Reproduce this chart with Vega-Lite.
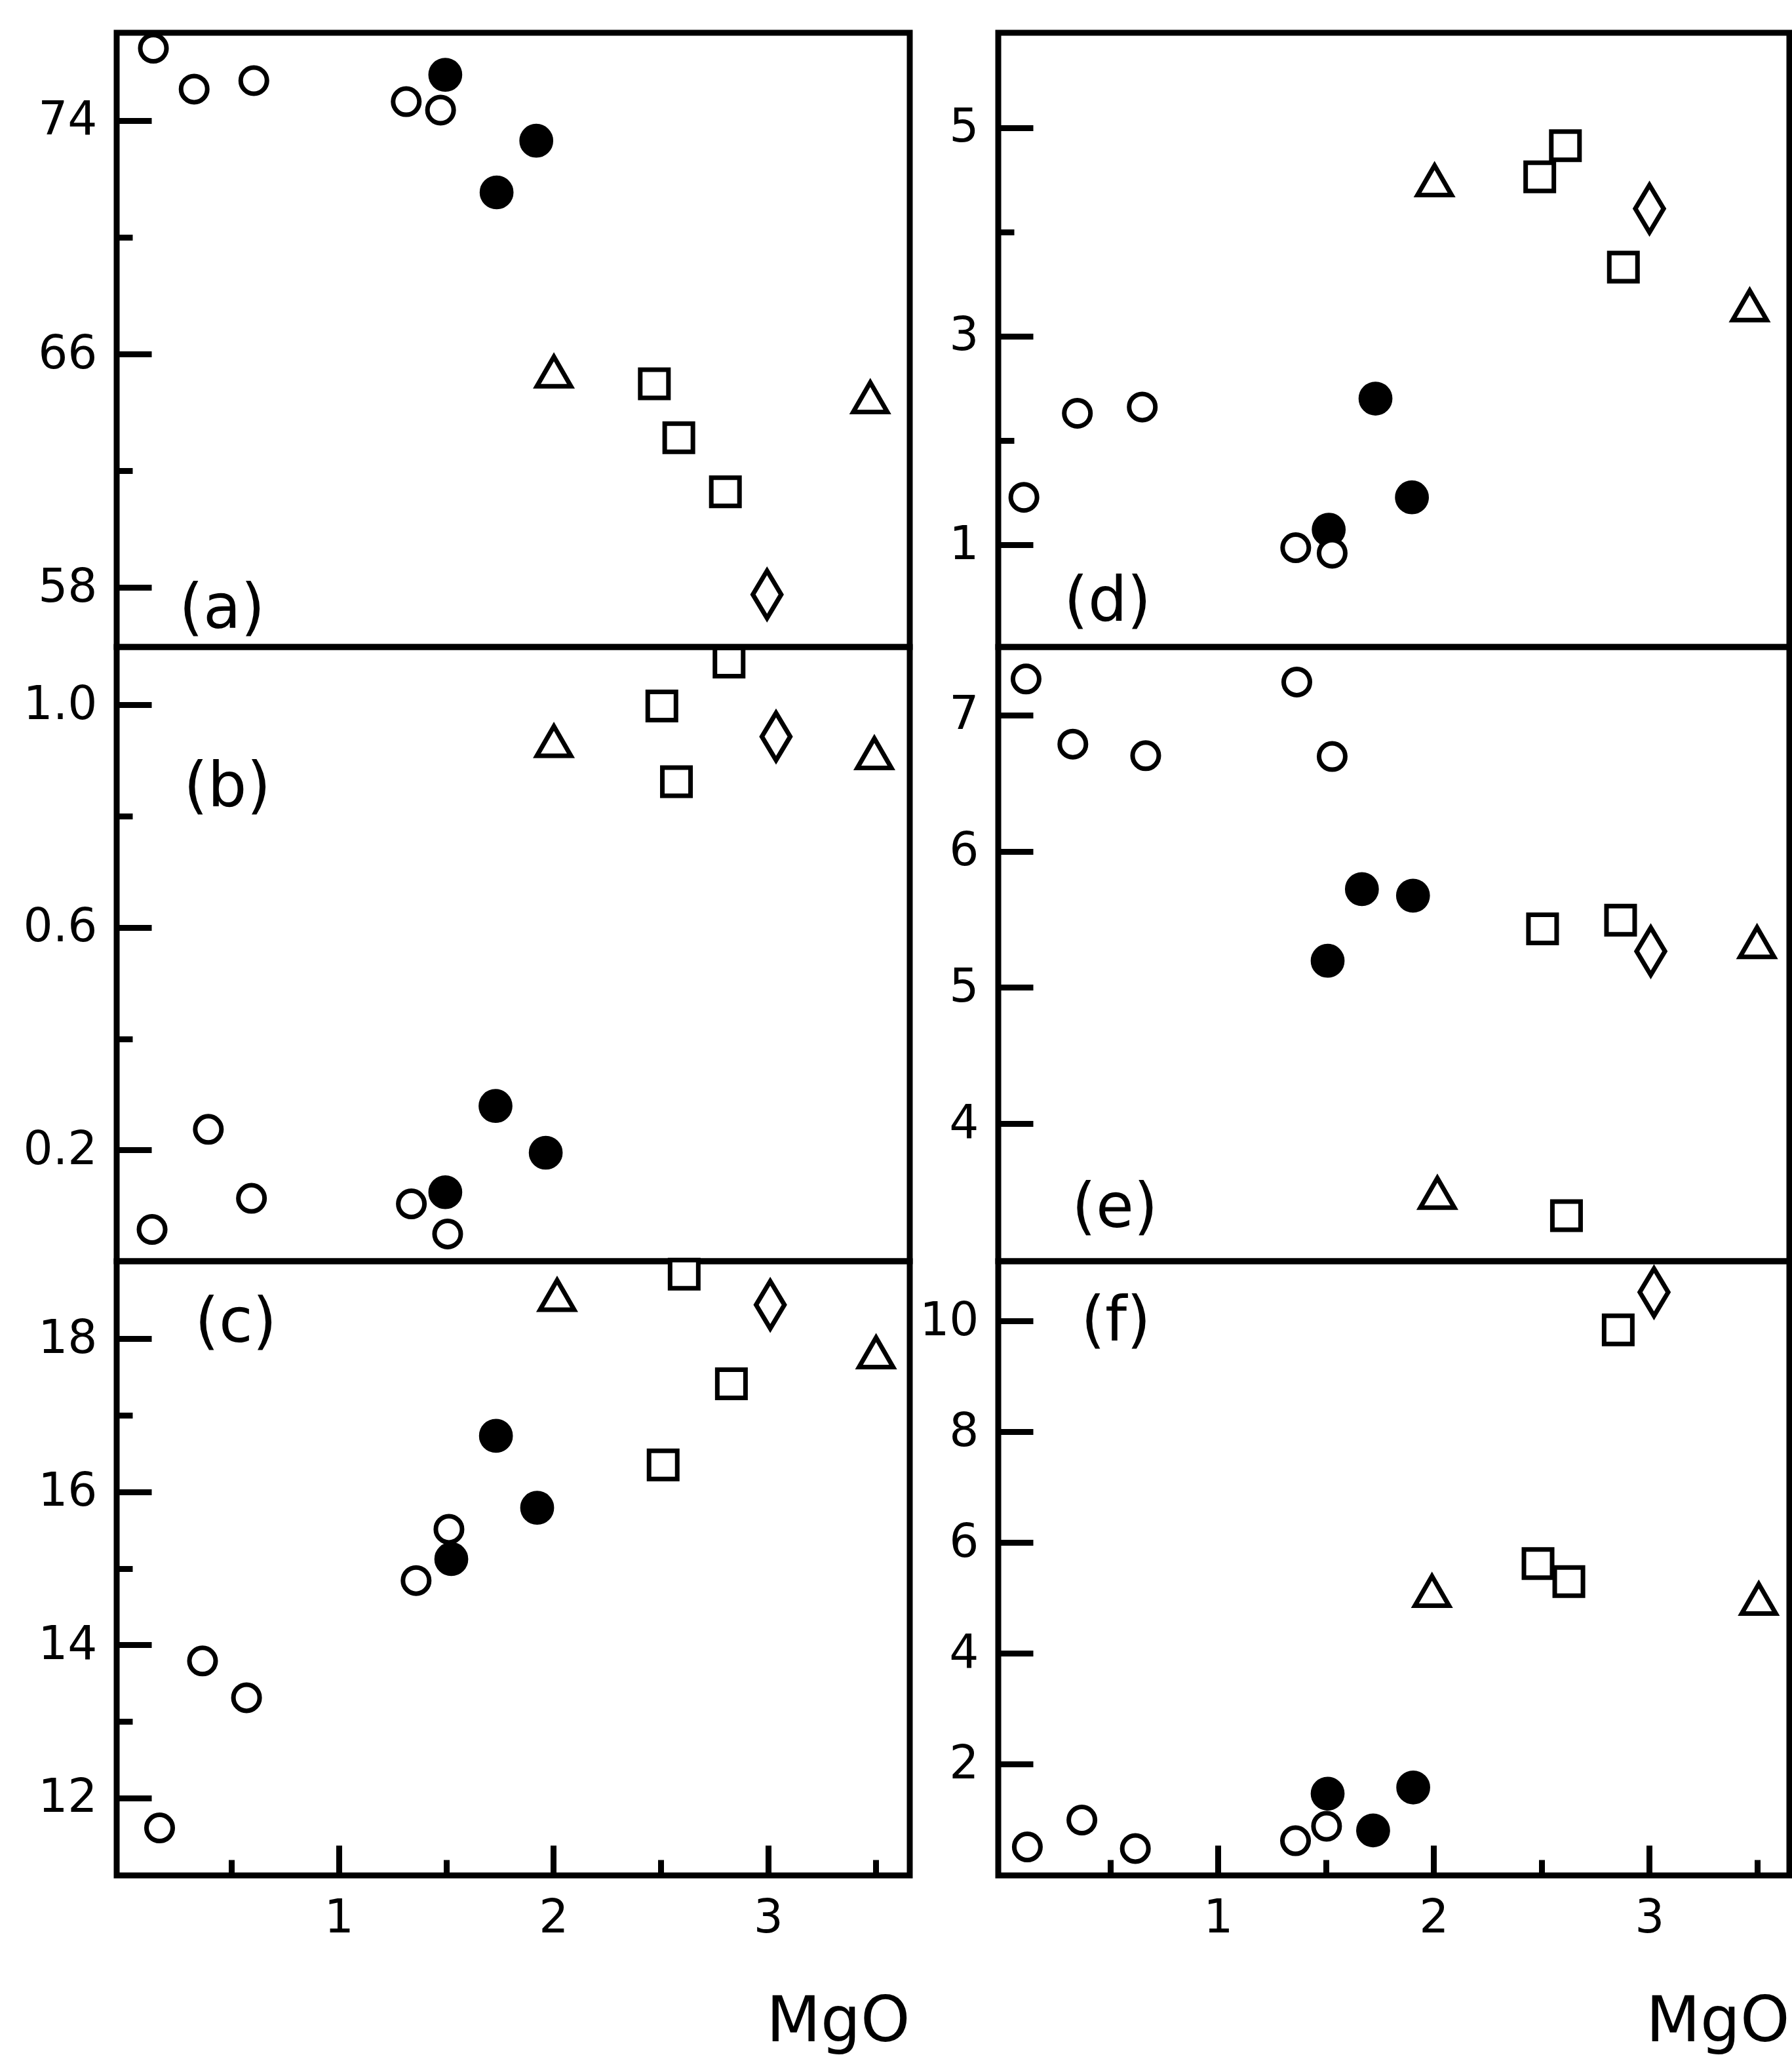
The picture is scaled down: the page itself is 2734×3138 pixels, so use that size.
{
  "$schema": "https://vega.github.io/schema/vega-lite/v6.json",
  "background": "white",
  "padding": {"left": 30, "top": 35, "right": 0, "bottom": 0},
  "datasets": {
    "pts": [
      {"p": "a", "k": "o", "x": 0.136, "y": 76.48},
      {"p": "a", "k": "o", "x": 0.326, "y": 75.08},
      {"p": "a", "k": "o", "x": 0.604, "y": 75.37},
      {"p": "a", "k": "o", "x": 1.314, "y": 74.65},
      {"p": "a", "k": "o", "x": 1.474, "y": 74.36},
      {"p": "a", "k": "f", "x": 1.496, "y": 75.57},
      {"p": "a", "k": "f", "x": 1.920, "y": 73.31},
      {"p": "a", "k": "f", "x": 1.735, "y": 71.54},
      {"p": "a", "k": "t", "x": 2.002, "y": 65.40},
      {"p": "a", "k": "t", "x": 3.476, "y": 64.52},
      {"p": "a", "k": "s", "x": 2.470, "y": 64.98},
      {"p": "a", "k": "s", "x": 2.584, "y": 63.13},
      {"p": "a", "k": "s", "x": 2.801, "y": 61.28},
      {"p": "a", "k": "d", "x": 2.995, "y": 57.76},

      {"p": "b", "k": "o", "x": 0.130, "y": 0.057},
      {"p": "b", "k": "o", "x": 0.392, "y": 0.237},
      {"p": "b", "k": "o", "x": 0.593, "y": 0.113},
      {"p": "b", "k": "o", "x": 1.338, "y": 0.103},
      {"p": "b", "k": "o", "x": 1.507, "y": 0.049},
      {"p": "b", "k": "f", "x": 1.496, "y": 0.124},
      {"p": "b", "k": "f", "x": 1.730, "y": 0.279},
      {"p": "b", "k": "f", "x": 1.964, "y": 0.195},
      {"p": "b", "k": "t", "x": 2.002, "y": 0.935},
      {"p": "b", "k": "t", "x": 3.495, "y": 0.913},
      {"p": "b", "k": "s", "x": 2.505, "y": 0.998},
      {"p": "b", "k": "s", "x": 2.573, "y": 0.862},
      {"p": "b", "k": "s", "x": 2.818, "y": 1.077},
      {"p": "b", "k": "d", "x": 3.037, "y": 0.943},

      {"p": "c", "k": "o", "x": 0.165, "y": 11.61},
      {"p": "c", "k": "o", "x": 0.365, "y": 13.79},
      {"p": "c", "k": "o", "x": 0.570, "y": 13.31},
      {"p": "c", "k": "o", "x": 1.360, "y": 14.84},
      {"p": "c", "k": "o", "x": 1.513, "y": 15.51},
      {"p": "c", "k": "f", "x": 1.524, "y": 15.12},
      {"p": "c", "k": "f", "x": 1.732, "y": 16.73},
      {"p": "c", "k": "f", "x": 1.924, "y": 15.79},
      {"p": "c", "k": "t", "x": 2.017, "y": 18.57},
      {"p": "c", "k": "t", "x": 3.503, "y": 17.82},
      {"p": "c", "k": "s", "x": 2.511, "y": 16.35},
      {"p": "c", "k": "s", "x": 2.829, "y": 17.41},
      {"p": "c", "k": "s", "x": 2.609, "y": 18.84},
      {"p": "c", "k": "d", "x": 3.010, "y": 18.44},

      {"p": "d", "k": "f", "x": 1.513, "y": 1.145},
      {"p": "d", "k": "f", "x": 1.730, "y": 2.402},
      {"p": "d", "k": "f", "x": 1.899, "y": 1.455},
      {"p": "d", "k": "o", "x": 0.099, "y": 1.455},
      {"p": "d", "k": "o", "x": 0.347, "y": 2.261},
      {"p": "d", "k": "o", "x": 0.648, "y": 2.321},
      {"p": "d", "k": "o", "x": 1.360, "y": 0.972},
      {"p": "d", "k": "o", "x": 1.529, "y": 0.919},
      {"p": "d", "k": "t", "x": 2.004, "y": 4.496},
      {"p": "d", "k": "t", "x": 3.466, "y": 3.296},
      {"p": "d", "k": "s", "x": 2.492, "y": 4.529},
      {"p": "d", "k": "s", "x": 2.611, "y": 4.827},
      {"p": "d", "k": "s", "x": 2.880, "y": 3.663},
      {"p": "d", "k": "d", "x": 3.001, "y": 4.223},

      {"p": "e", "k": "o", "x": 0.109, "y": 7.265},
      {"p": "e", "k": "o", "x": 0.326, "y": 6.787},
      {"p": "e", "k": "o", "x": 0.664, "y": 6.702},
      {"p": "e", "k": "o", "x": 1.365, "y": 7.243},
      {"p": "e", "k": "o", "x": 1.529, "y": 6.696},
      {"p": "e", "k": "f", "x": 1.508, "y": 5.196},
      {"p": "e", "k": "f", "x": 1.667, "y": 5.722},
      {"p": "e", "k": "f", "x": 1.904, "y": 5.674},
      {"p": "e", "k": "t", "x": 2.017, "y": 3.492},
      {"p": "e", "k": "t", "x": 3.500, "y": 5.333},
      {"p": "e", "k": "s", "x": 2.505, "y": 5.430},
      {"p": "e", "k": "s", "x": 2.867, "y": 5.494},
      {"p": "e", "k": "s", "x": 2.616, "y": 3.325},
      {"p": "e", "k": "d", "x": 3.007, "y": 5.266},

      {"p": "f", "k": "f", "x": 1.508, "y": 1.466},
      {"p": "f", "k": "f", "x": 1.719, "y": 0.803},
      {"p": "f", "k": "f", "x": 1.905, "y": 1.578},
      {"p": "f", "k": "o", "x": 0.115, "y": 0.504},
      {"p": "f", "k": "o", "x": 0.368, "y": 0.990},
      {"p": "f", "k": "o", "x": 0.616, "y": 0.476},
      {"p": "f", "k": "o", "x": 1.359, "y": 0.616},
      {"p": "f", "k": "o", "x": 1.503, "y": 0.878},
      {"p": "f", "k": "t", "x": 1.992, "y": 5.126},
      {"p": "f", "k": "t", "x": 3.508, "y": 4.986},
      {"p": "f", "k": "s", "x": 2.484, "y": 5.621},
      {"p": "f", "k": "s", "x": 2.627, "y": 5.294},
      {"p": "f", "k": "s", "x": 2.856, "y": 9.84},
      {"p": "f", "k": "d", "x": 3.022, "y": 10.52}
    ],
    "lab": [
      {"p": "a", "x": 0.456, "y": 57.25, "t": "(a)"},
      {"p": "b", "x": 0.480, "y": 0.851, "t": "(b)"},
      {"p": "c", "x": 0.520, "y": 18.20, "t": "(c)"},
      {"p": "d", "x": 0.487, "y": 0.448, "t": "(d)"},
      {"p": "e", "x": 0.521, "y": 3.377, "t": "(e)"},
      {"p": "f", "x": 0.526, "y": 9.98, "t": "(f)"}
    ]
  },
  "hconcat": [
    {
      "spacing": 0,
      "bounds": "flush",
      "vconcat": [
        {
          "width": 1210, "height": 937,
          "encoding": {
            "x": {"field": "x", "type": "quantitative", "scale": {"domain": [-0.035, 3.66], "nice": false, "zero": false}, "axis": null},
            "y": {"field": "y", "type": "quantitative", "scale": {"domain": [55.96, 77.01], "nice": false, "zero": false},
              "axis": {"title": null, "values": [58, 62, 66, 70, 74],
                "labelExpr": "datum.value % 8 === 2 ? datum.label : ''",
                "tickSize": {"condition": {"test": "datum.value % 8 === 2", "value": -53}, "value": -24}}}
          },
          "layer": [
            {
              "data": {"name": "pts"},
              "transform": [{"filter": "datum.p === 'a'"}],
              "mark": {"type": "point", "stroke": "black", "strokeWidth": 7, "opacity": 1, "fillOpacity": 1},
              "encoding": {
                "shape": {"field": "k", "type": "nominal", "legend": null, "scale": {"domain": ["o", "f", "t", "s", "d"], "range": ["circle", "circle", "triangle-up", "square", "M0,-1L0.6,0L0,1L-0.6,0Z"]}},
                "fill": {"field": "k", "type": "nominal", "legend": null, "scale": {"domain": ["o", "f", "t", "s", "d"], "range": ["white", "black", "white", "white", "white"]}},
                "size": {"field": "k", "type": "nominal", "legend": null, "scale": {"type": "ordinal", "domain": ["o", "f", "t", "s", "d"], "range": [1600, 2000, 2700, 1850, 5200]}}
              }
            },
            {
              "data": {"name": "lab"},
              "transform": [{"filter": "datum.p === 'a'"}],
              "mark": {"type": "text", "font": "DejaVu Sans", "fontSize": 94, "color": "black"},
              "encoding": {"text": {"field": "t"}}
            }
          ]
        },
        {
          "width": 1210, "height": 937,
          "encoding": {
            "x": {"field": "x", "type": "quantitative", "scale": {"domain": [-0.035, 3.66], "nice": false, "zero": false}, "axis": null},
            "y": {"field": "y", "type": "quantitative", "scale": {"domain": [0, 1.104], "nice": false, "zero": false},
              "axis": {"title": null, "values": [0.2, 0.4, 0.6, 0.8, 1.0], "format": ".1f",
                "labelExpr": "abs((datum.value * 10) % 4 - 2) < 0.01 ? datum.label : ''",
                "tickSize": {"condition": {"test": "abs((datum.value * 10) % 4 - 2) < 0.01", "value": -53}, "value": -24}}}
          },
          "layer": [
            {
              "data": {"name": "pts"},
              "transform": [{"filter": "datum.p === 'b'"}],
              "mark": {"type": "point", "stroke": "black", "strokeWidth": 7, "opacity": 1, "fillOpacity": 1},
              "encoding": {
                "shape": {"field": "k", "type": "nominal", "legend": null, "scale": {"domain": ["o", "f", "t", "s", "d"], "range": ["circle", "circle", "triangle-up", "square", "M0,-1L0.6,0L0,1L-0.6,0Z"]}},
                "fill": {"field": "k", "type": "nominal", "legend": null, "scale": {"domain": ["o", "f", "t", "s", "d"], "range": ["white", "black", "white", "white", "white"]}},
                "size": {"field": "k", "type": "nominal", "legend": null, "scale": {"type": "ordinal", "domain": ["o", "f", "t", "s", "d"], "range": [1600, 2000, 2700, 1850, 5200]}}
              }
            },
            {
              "data": {"name": "lab"},
              "transform": [{"filter": "datum.p === 'b'"}],
              "mark": {"type": "text", "font": "DejaVu Sans", "fontSize": 94, "color": "black"},
              "encoding": {"text": {"field": "t"}}
            }
          ]
        },
        {
          "width": 1210, "height": 937,
          "encoding": {
            "x": {"field": "x", "type": "quantitative", "scale": {"domain": [-0.035, 3.66], "nice": false, "zero": false},
              "axis": {"title": "MgO", "values": [0.5, 1, 1.5, 2, 2.5, 3, 3.5], "format": ".0f",
                "labelExpr": "datum.value % 1 === 0 ? datum.label : ''",
                "tickSize": {"condition": {"test": "datum.value % 1 === 0", "value": -46}, "value": -24},
                "labelPadding": 76, "labelFlush": false,
                "titleAnchor": "end", "titleFontSize": 96, "titlePadding": 76}},
            "y": {"field": "y", "type": "quantitative", "scale": {"domain": [10.99, 19.01], "nice": false, "zero": false},
              "axis": {"title": null, "values": [12, 13, 14, 15, 16, 17, 18],
                "labelExpr": "datum.value % 2 === 0 ? datum.label : ''",
                "tickSize": {"condition": {"test": "datum.value % 2 === 0", "value": -53}, "value": -24}}}
          },
          "layer": [
            {
              "data": {"name": "pts"},
              "transform": [{"filter": "datum.p === 'c'"}],
              "mark": {"type": "point", "stroke": "black", "strokeWidth": 7, "opacity": 1, "fillOpacity": 1},
              "encoding": {
                "shape": {"field": "k", "type": "nominal", "legend": null, "scale": {"domain": ["o", "f", "t", "s", "d"], "range": ["circle", "circle", "triangle-up", "square", "M0,-1L0.6,0L0,1L-0.6,0Z"]}},
                "fill": {"field": "k", "type": "nominal", "legend": null, "scale": {"domain": ["o", "f", "t", "s", "d"], "range": ["white", "black", "white", "white", "white"]}},
                "size": {"field": "k", "type": "nominal", "legend": null, "scale": {"type": "ordinal", "domain": ["o", "f", "t", "s", "d"], "range": [1600, 2000, 2700, 1850, 5200]}}
              }
            },
            {
              "data": {"name": "lab"},
              "transform": [{"filter": "datum.p === 'c'"}],
              "mark": {"type": "text", "font": "DejaVu Sans", "fontSize": 94, "color": "black"},
              "encoding": {"text": {"field": "t"}}
            }
          ]
        }
      ]
    },
    {
      "spacing": 0,
      "bounds": "flush",
      "vconcat": [
        {
          "width": 1207, "height": 937,
          "encoding": {
            "x": {"field": "x", "type": "quantitative", "scale": {"domain": [-0.02, 3.65], "nice": false, "zero": false}, "axis": null},
            "y": {"field": "y", "type": "quantitative", "scale": {"domain": [0.02, 5.91], "nice": false, "zero": false},
              "axis": {"title": null, "values": [1, 2, 3, 4, 5],
                "labelExpr": "datum.value % 2 === 1 ? datum.label : ''",
                "tickSize": {"condition": {"test": "datum.value % 2 === 1", "value": -53}, "value": -24}}}
          },
          "layer": [
            {
              "data": {"name": "pts"},
              "transform": [{"filter": "datum.p === 'd'"}],
              "mark": {"type": "point", "stroke": "black", "strokeWidth": 7, "opacity": 1, "fillOpacity": 1},
              "encoding": {
                "shape": {"field": "k", "type": "nominal", "legend": null, "scale": {"domain": ["o", "f", "t", "s", "d"], "range": ["circle", "circle", "triangle-up", "square", "M0,-1L0.6,0L0,1L-0.6,0Z"]}},
                "fill": {"field": "k", "type": "nominal", "legend": null, "scale": {"domain": ["o", "f", "t", "s", "d"], "range": ["white", "black", "white", "white", "white"]}},
                "size": {"field": "k", "type": "nominal", "legend": null, "scale": {"type": "ordinal", "domain": ["o", "f", "t", "s", "d"], "range": [1600, 2000, 2700, 1850, 5200]}}
              }
            },
            {
              "data": {"name": "lab"},
              "transform": [{"filter": "datum.p === 'd'"}],
              "mark": {"type": "text", "font": "DejaVu Sans", "fontSize": 94, "color": "black"},
              "encoding": {"text": {"field": "t"}}
            }
          ]
        },
        {
          "width": 1207, "height": 937,
          "encoding": {
            "x": {"field": "x", "type": "quantitative", "scale": {"domain": [-0.02, 3.65], "nice": false, "zero": false}, "axis": null},
            "y": {"field": "y", "type": "quantitative", "scale": {"domain": [2.99, 7.5], "nice": false, "zero": false},
              "axis": {"title": null, "values": [4, 5, 6, 7], "tickSize": -53}}
          },
          "layer": [
            {
              "data": {"name": "pts"},
              "transform": [{"filter": "datum.p === 'e'"}],
              "mark": {"type": "point", "stroke": "black", "strokeWidth": 7, "opacity": 1, "fillOpacity": 1},
              "encoding": {
                "shape": {"field": "k", "type": "nominal", "legend": null, "scale": {"domain": ["o", "f", "t", "s", "d"], "range": ["circle", "circle", "triangle-up", "square", "M0,-1L0.6,0L0,1L-0.6,0Z"]}},
                "fill": {"field": "k", "type": "nominal", "legend": null, "scale": {"domain": ["o", "f", "t", "s", "d"], "range": ["white", "black", "white", "white", "white"]}},
                "size": {"field": "k", "type": "nominal", "legend": null, "scale": {"type": "ordinal", "domain": ["o", "f", "t", "s", "d"], "range": [1600, 2000, 2700, 1850, 5200]}}
              }
            },
            {
              "data": {"name": "lab"},
              "transform": [{"filter": "datum.p === 'e'"}],
              "mark": {"type": "text", "font": "DejaVu Sans", "fontSize": 94, "color": "black"},
              "encoding": {"text": {"field": "t"}}
            }
          ]
        },
        {
          "width": 1207, "height": 937,
          "encoding": {
            "x": {"field": "x", "type": "quantitative", "scale": {"domain": [-0.02, 3.65], "nice": false, "zero": false},
              "axis": {"title": "MgO", "values": [0.5, 1, 1.5, 2, 2.5, 3, 3.5], "format": ".0f",
                "labelExpr": "datum.value % 1 === 0 ? datum.label : ''",
                "tickSize": {"condition": {"test": "datum.value % 1 === 0", "value": -46}, "value": -24},
                "labelPadding": 76, "labelFlush": false,
                "titleAnchor": "end", "titleFontSize": 96, "titlePadding": 76}},
            "y": {"field": "y", "type": "quantitative", "scale": {"domain": [-0.01, 11.08], "nice": false, "zero": false},
              "axis": {"title": null, "values": [2, 4, 6, 8, 10], "tickSize": -53}}
          },
          "layer": [
            {
              "data": {"name": "pts"},
              "transform": [{"filter": "datum.p === 'f'"}],
              "mark": {"type": "point", "stroke": "black", "strokeWidth": 7, "opacity": 1, "fillOpacity": 1},
              "encoding": {
                "shape": {"field": "k", "type": "nominal", "legend": null, "scale": {"domain": ["o", "f", "t", "s", "d"], "range": ["circle", "circle", "triangle-up", "square", "M0,-1L0.6,0L0,1L-0.6,0Z"]}},
                "fill": {"field": "k", "type": "nominal", "legend": null, "scale": {"domain": ["o", "f", "t", "s", "d"], "range": ["white", "black", "white", "white", "white"]}},
                "size": {"field": "k", "type": "nominal", "legend": null, "scale": {"type": "ordinal", "domain": ["o", "f", "t", "s", "d"], "range": [1600, 2000, 2700, 1850, 5200]}}
              }
            },
            {
              "data": {"name": "lab"},
              "transform": [{"filter": "datum.p === 'f'"}],
              "mark": {"type": "text", "font": "DejaVu Sans", "fontSize": 94, "color": "black"},
              "encoding": {"text": {"field": "t"}}
            }
          ]
        }
      ]
    }
  ],
  "spacing": 5,
  "config": {
    "view": {"stroke": "black", "strokeWidth": 9},
    "axis": {
      "domain": false, "grid": false,
      "tickColor": "black", "tickWidth": 9,
      "labelFont": "DejaVu Sans", "labelFontSize": 71, "labelColor": "black", "labelPadding": 83,
      "titleFont": "DejaVu Sans", "titleColor": "black", "titleFontWeight": "normal"
    }
  }
}
